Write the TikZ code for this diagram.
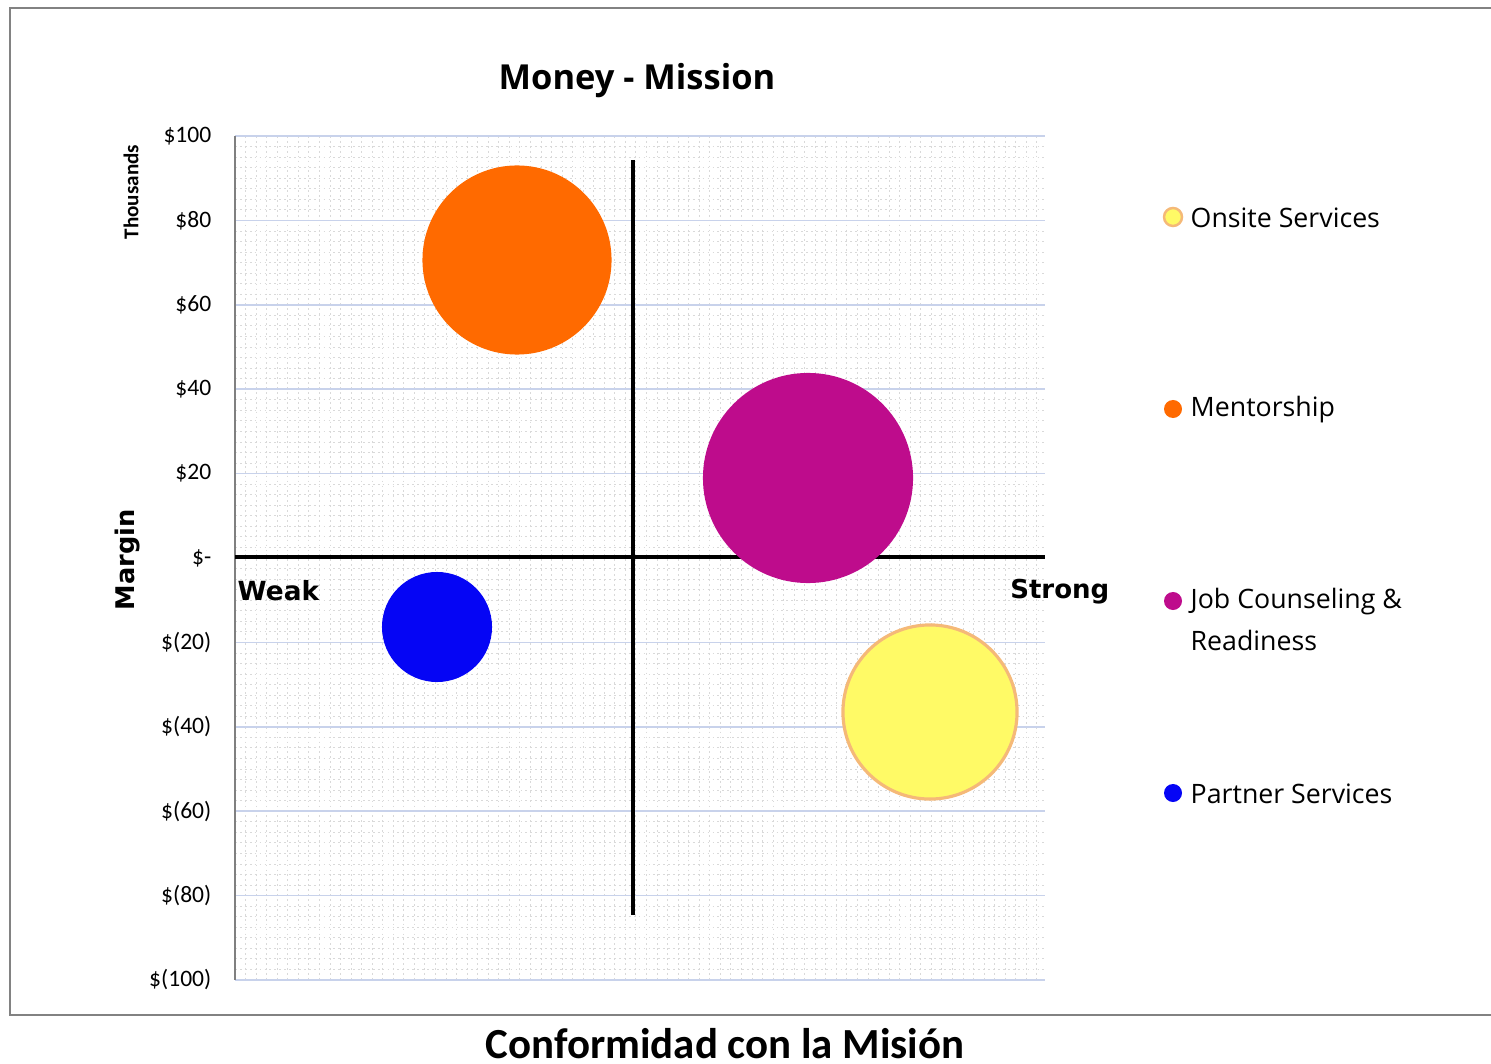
\documentclass[tikz,border=0pt]{standalone}
\usepackage{fontspec}
\setmainfont{Open Sans}
\newfontfamily\calfont{Carlito}
\newfontfamily\verfont{DejaVu Sans}
\definecolor{mentorc}{RGB}{255,106,0}
\definecolor{jobc}{RGB}{190,12,140}
\definecolor{partnerc}{RGB}{5,5,245}
\definecolor{onsitec}{RGB}{255,250,102}
\definecolor{onsitebd}{RGB}{245,185,120}
\definecolor{majorc}{RGB}{200,210,235}
\definecolor{framec}{RGB}{130,130,130}
\begin{document}
\begin{tikzpicture}
        [
            x=0.01cm, y=-0.01cm,
            bubble/.style={circle, inner sep=0pt},
            legmark/.style={circle, inner sep=0pt, minimum size=0.18cm},
            ylab/.style={anchor=east, inner sep=0pt, font=\calfont\fontsize{6.7}{7}\selectfont},
            legtext/.style={anchor=west, inner sep=0pt, font=\fontsize{7.6}{9}\selectfont},
            minorline/.style={draw=gray!30, line width=0.25pt, dash pattern=on 0.5pt off 0.9pt}
        ]
        \useasboundingbox (0,0) rectangle (1491,1064);
        % frame
        \draw[framec, line width=0.6pt] (10,8) rectangle (1510,1015);
        % minor grid
        \foreach \i in {0,...,80}
            \draw[minorline] (235,{136+\i*10.55}) -- (1045,{136+\i*10.55});
        \foreach \i in {0,...,76}
            \draw[minorline] ({235+\i*10.55},136) -- ({235+\i*10.55},980);
        % major grid and y labels
        \foreach \v [count=\k from 0] in {\$100,\$80,\$60,\$40,\$20,\$-,\$(20),\$(40),\$(60),\$(80),\$(100)}
        {
            \draw[majorc, line width=0.5pt] (235,{136+\k*84.4}) -- (1045,{136+\k*84.4});
            \node[ylab] (y\k) at (212,{136+\k*84.4}) {\v};
        }
        \draw[gray, line width=0.5pt] (235,136) -- (235,980);
        % quadrant axes
        \draw[black, line width=1.4pt] (235,557) -- (1045,557);
        \draw[black, line width=0.9pt] (633,160) -- (633,915);
        % bubbles
        \node[bubble, fill=mentorc, minimum size=1.89cm] (mentor) at (517,260) {};
        \node[bubble, fill=jobc, minimum size=2.10cm] (job) at (808,478) {};
        \node[bubble, fill=partnerc, minimum size=1.10cm] (partner) at (437,627) {};
        \node[bubble, fill=onsitec, draw=onsitebd, line width=0.9pt, minimum size=1.74cm] (onsite) at (930,712) {};
        % labels
        \node[font=\bfseries\fontsize{9.8}{12}\selectfont] (title) at (637,81) {Money - Mission};
        \node[anchor=base, inner sep=0pt, font=\calfont\bfseries\fontsize{12.2}{14}\selectfont] (xtitle) at (725,1058) {Conformidad con la Misi\'on};
        \node[anchor=west, inner sep=0pt, font=\verfont\bfseries\fontsize{7.5}{9}\selectfont] (weak) at (237,591) {Weak};
        \node[anchor=east, inner sep=0pt, font=\verfont\bfseries\fontsize{7.4}{9}\selectfont] (strong) at (1110,592) {Strong};
        \node[rotate=90, font=\verfont\bfseries\fontsize{7.3}{9}\selectfont] (margin) at (128,560) {Margin};
        \node[rotate=90, font=\calfont\bfseries\fontsize{6}{7}\selectfont] (thou) at (131,192) {Thousands};
        % legend
        \node[legmark, fill=onsitec, draw=onsitebd, line width=0.7pt] (m1) at (1173,217) {};
        \node[legtext] (l1) at (1190,218) {Onsite Services};
        \node[legmark, fill=mentorc] (m2) at (1173,409) {};
        \node[legtext] (l2) at (1190,410) {Mentorship};
        \node[legmark, fill=jobc] (m3) at (1173,601) {};
        \node[legtext] (l3) at (1190,602) {Job Counseling \&};
        \node[legtext] (l3b) at (1190,640) {Readiness};
        \node[legmark, fill=partnerc] (m4) at (1173,793) {};
        \node[legtext] (l4) at (1190,794) {Partner Services};
    \end{tikzpicture}
\end{document}
